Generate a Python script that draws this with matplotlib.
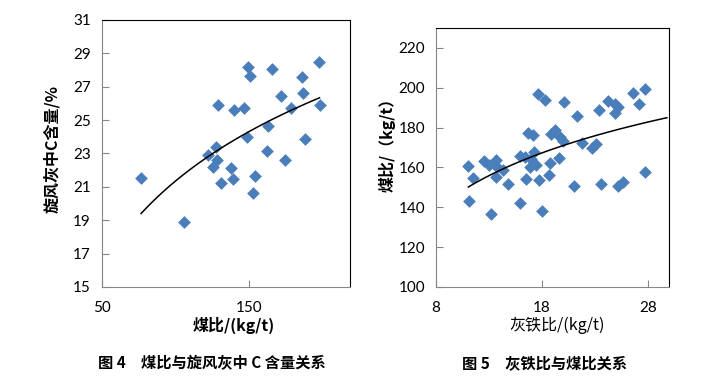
import numpy as np
import matplotlib.pyplot as plt

plt.rcParams['font.family'] = ['Noto Sans CJK SC', 'DejaVu Sans']

# 图4: 煤比 vs 旋风灰中C含量
coal_ratio = [76.6, 105.9, 129.1, 122.3, 127.5, 125.7, 128.4, 131.4, 140.0, 138.2,
              139.3, 146.8, 149.5, 151.1, 148.9, 154.1, 153.0, 166.1, 163.2, 162.5,
              172.3, 178.6, 174.5, 186.4, 186.8, 188.4, 197.7, 198.2]
c_content = [21.54, 18.92, 25.90, 22.88, 23.40, 22.20, 22.60, 21.26, 25.60, 22.10,
             21.46, 25.72, 28.20, 27.64, 23.96, 21.66, 20.64, 28.04, 24.64, 23.12,
             26.44, 25.70, 22.58, 27.56, 26.62, 23.84, 28.48, 25.90]

# 图5: 灰铁比 vs 煤比
ash_iron = [11.05, 11.52, 11.08, 12.53, 12.97, 13.69, 13.79, 14.32, 13.69, 13.16,
            14.79, 15.89, 15.96, 16.36, 16.68, 17.15, 17.25, 16.99, 16.84, 16.46,
            17.47, 17.69, 17.62, 18.25, 18.03, 18.72, 18.66, 18.88, 19.19, 19.67,
            19.98, 19.60, 20.04, 21.30, 21.77, 21.02, 22.75, 23.13, 23.38, 23.60,
            24.23, 24.86, 25.23, 24.86, 25.17, 25.70, 26.58, 27.15, 27.72, 27.72]
coal_ratio2 = [160.5, 154.5, 143.0, 163.2, 161.0, 163.5, 160.2, 158.5, 155.2, 136.6,
               151.8, 142.3, 165.5, 165.2, 177.2, 176.5, 167.7, 164.3, 160.2, 154.3,
               161.0, 153.8, 196.9, 193.9, 137.9, 162.2, 156.0, 176.9, 178.9, 175.5,
               173.5, 164.9, 193.1, 185.9, 172.5, 150.6, 169.9, 171.9, 188.9, 151.8,
               193.6, 191.9, 190.3, 187.4, 150.5, 152.6, 197.6, 191.9, 199.4, 157.8]
trend_end2 = 29.8  # trendline forward extent

blue = '#4A7EBB'
grey = '#868686'


def style(ax, xlim, ylim, xticks, yticks):
    ax.set_xlim(*xlim)
    ax.set_ylim(*ylim)
    ax.set_xticks(xticks)
    ax.set_yticks(yticks)
    for s in ['left', 'bottom']:
        ax.spines[s].set_color(grey)
    for s in ['top', 'right']:
        ax.spines[s].set_color('black')
    ax.tick_params(direction='in', length=5, color=grey, labelsize=11)
    ax.tick_params(axis='y', pad=8)
    ax.tick_params(axis='x', pad=10)
    for lb in ax.get_xticklabels() + ax.get_yticklabels():
        lb.set_fontfamily('Lato')


def log_trend(ax, x, y, x_end):
    a, b = np.polyfit(np.log(x), y, 1)
    xs = np.linspace(min(x), x_end, 100)
    ax.plot(xs, a * np.log(xs) + b, color='black', lw=1.1, zorder=3)


fig = plt.figure(figsize=(7.06, 3.91), dpi=100)
ax1 = fig.add_axes([0.1445, 0.266, 0.3513, 0.683])
ax2 = fig.add_axes([0.6176, 0.266, 0.330, 0.6624])

ax1.scatter(coal_ratio, c_content, marker='D', s=42, color=blue, lw=0, zorder=2)
log_trend(ax1, coal_ratio, c_content, max(coal_ratio))
style(ax1, (50, 219), (15, 31), [50, 150], range(15, 32, 2))
ax1.set_xlabel('煤比/(kg/t)', fontsize=11.5, fontweight='bold')
ax1.set_ylabel('旋风灰中C含量/%', fontsize=11.5, fontweight='bold')
ax1.xaxis.set_label_coords(0.532, -0.112)
ax1.yaxis.set_label_coords(-0.169, 0.517)

ax2.scatter(ash_iron, coal_ratio2, marker='D', s=42, color=blue, lw=0, zorder=2)
log_trend(ax2, ash_iron, coal_ratio2, trend_end2)
style(ax2, (8, 30), (100, 230), [8, 18, 28], range(100, 221, 20))
ax2.set_xlabel('灰铁比/(kg/t)', fontsize=11.5)
ax2.set_ylabel('煤比/（kg/t）', fontsize=11.5, fontweight='bold')
ax2.xaxis.set_label_coords(0.519, -0.116)
ax2.yaxis.set_label_coords(-0.172, 0.564)

fig.text(0.300, 0.0716, '图 4　煤比与旋风灰中 C 含量关系', ha='center', va='center',
         fontsize=11, fontweight='bold')
fig.text(0.772, 0.0716, '图 5　灰铁比与煤比关系', ha='center', va='center',
         fontsize=11, fontweight='bold')

fig.savefig('out.png', dpi=100)
